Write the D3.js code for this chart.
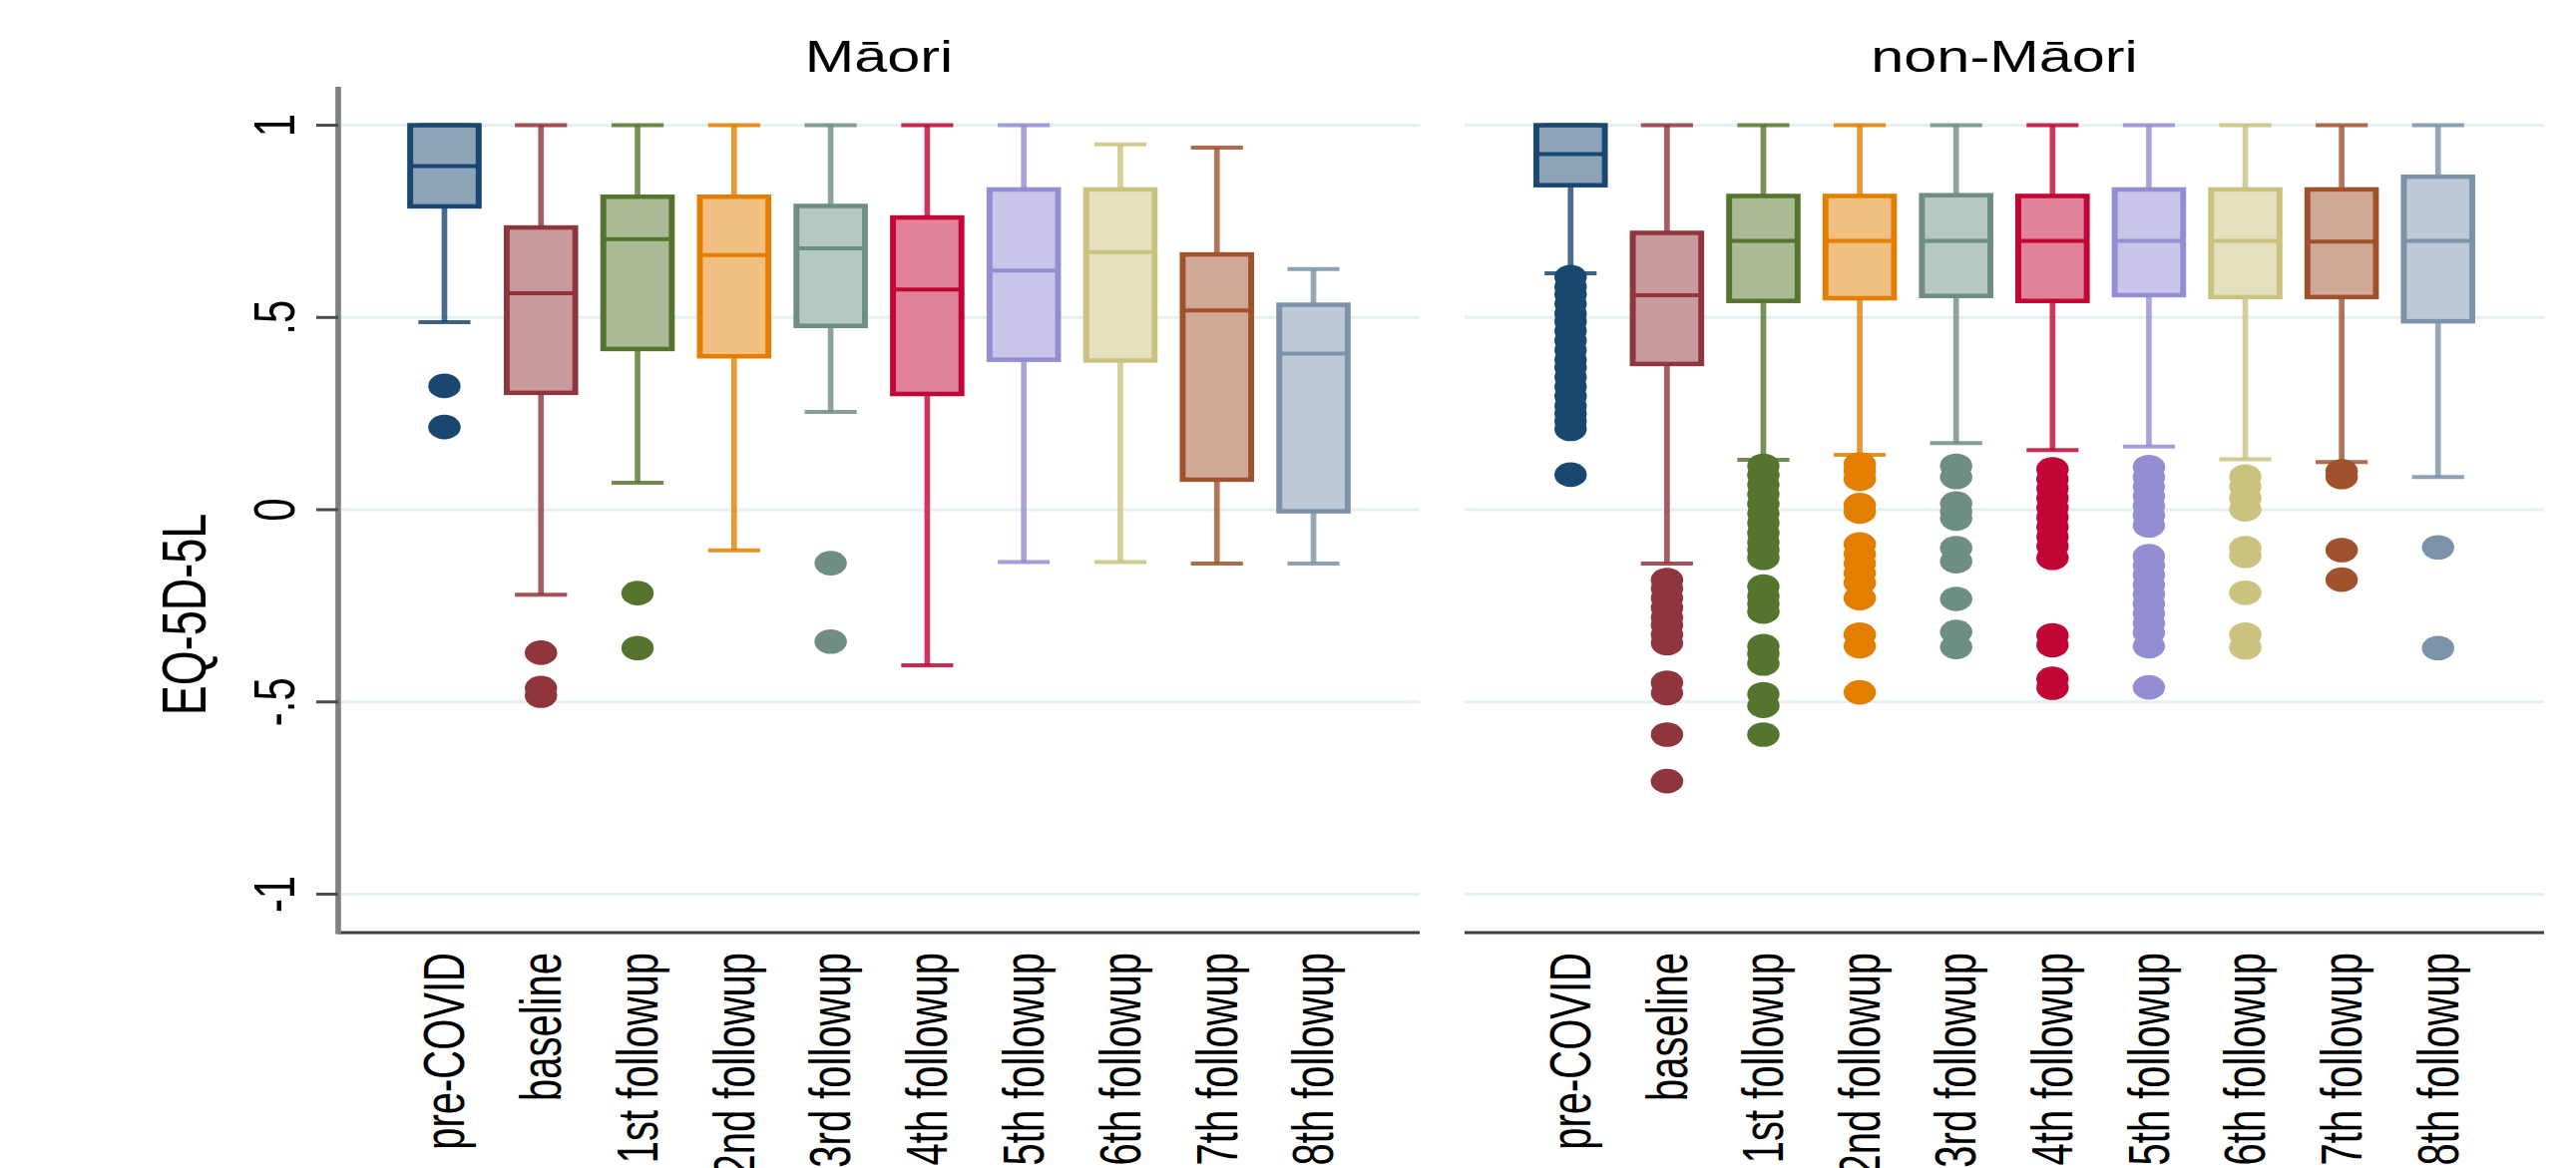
<!DOCTYPE html>
<html>
<head>
<meta charset="utf-8">
<script src="https://cdn.jsdelivr.net/npm/d3@7"></script>
<style>
body { margin: 0; background: #fff; overflow: hidden; }
text { font-family: "Liberation Sans", Arial, sans-serif; fill: #000; }
</style>
</head>
<body>
<svg id="chart"></svg>
<script>
// DATA ///////////////////////////////////////////////////////////////////////////

var categories = ["pre-COVID", "baseline", "1st followup", "2nd followup", "3rd followup",
    "4th followup", "5th followup", "6th followup", "7th followup", "8th followup"];

var groups = ["M\u0101ori", "non-M\u0101ori"];

var yTicks = [1, 0.5, 0, -0.5, -1];
var yTickLabels = ["1", ".5", "0", "-.5", "-1"];

// Māori
var maoriHigh   = [1, 1, 1, 1, 1, 1, 1, 0.95, 0.942, 0.626];
var maoriQ3     = [1, 0.734, 0.814, 0.814, 0.79, 0.76, 0.833, 0.833, 0.664, 0.533];
var maoriMedian = [0.894, 0.563, 0.704, 0.662, 0.68, 0.573, 0.622, 0.67, 0.518, 0.406];
var maoriQ1     = [0.789, 0.304, 0.418, 0.399, 0.478, 0.301, 0.39, 0.388, 0.078, -0.004];
var maoriLow    = [0.488, -0.221, 0.07, -0.106, 0.254, -0.405, -0.136, -0.136, -0.14, -0.14];
var maoriOutliers = [
    [0.322, 0.215],
    [-0.372, -0.464, -0.484],
    [-0.217, -0.36],
    [],
    [-0.139, -0.343],
    [], [], [], [], []
];

// non-Māori
var nonMaoriHigh   = [1, 1, 1, 1, 1, 1, 1, 1, 1, 1];
var nonMaoriQ3     = [1, 0.72, 0.816, 0.816, 0.818, 0.816, 0.833, 0.833, 0.833, 0.866];
var nonMaoriMedian = [0.925, 0.558, 0.699, 0.699, 0.699, 0.699, 0.699, 0.699, 0.697, 0.699];
var nonMaoriQ1     = [0.844, 0.379, 0.543, 0.55, 0.556, 0.543, 0.558, 0.553, 0.553, 0.49];
var nonMaoriLow    = [0.615, -0.14, 0.13, 0.143, 0.173, 0.155, 0.164, 0.131, 0.124, 0.085];
var nonMaoriOutliers = [
    [0.605, 0.58, 0.56, 0.535, 0.51, 0.49, 0.465, 0.44, 0.415, 0.39, 0.37, 0.345, 0.32, 0.295, 0.27, 0.25, 0.23, 0.21, 0.091],
    [-0.183, -0.205, -0.23, -0.255, -0.28, -0.3, -0.325, -0.347, -0.45, -0.477, -0.585, -0.706],
    [0.114, 0.09, 0.065, 0.04, 0.015, -0.01, -0.035, -0.06, -0.085, -0.105, -0.125, -0.2, -0.225, -0.245, -0.265, -0.355, -0.375, -0.4, -0.48, -0.51, -0.585],
    [0.118, 0.1, 0.08, 0.012, -0.005, -0.09, -0.115, -0.14, -0.165, -0.19, -0.23, -0.325, -0.355, -0.475],
    [0.114, 0.085, 0.016, -0.005, -0.023, -0.1, -0.134, -0.232, -0.318, -0.357],
    [0.105, 0.08, 0.055, 0.03, 0.005, -0.02, -0.045, -0.07, -0.095, -0.125, -0.327, -0.352, -0.44, -0.463],
    [0.111, 0.085, 0.06, 0.035, 0.01, -0.015, -0.041, -0.121, -0.145, -0.17, -0.195, -0.22, -0.245, -0.27, -0.295, -0.32, -0.355, -0.462],
    [0.086, 0.06, 0.03, 0.001, -0.1, -0.12, -0.216, -0.325, -0.358],
    [0.1, 0.085, -0.105, -0.182],
    [-0.098, -0.36]
];

var boxColours = ["#1a476f", "#90353b", "#55752f", "#e37e00", "#6e8e84",
    "#c10534", "#938dd2", "#cac27e", "#a0522d", "#7b92a8"];

// SETUP //////////////////////////////////////////////////////////////////////////

const WIDTH = 2582, HEIGHT = 1171;
const STRETCH = 1.32;              // the picture is wider than it is drawn
const VB_W = WIDTH / STRETCH;
const PLOT_TOP = 87, PLOT_BOTTOM = 935;
const PANEL_X = [[339, 1423], [1468, 2550]];   // screen px
const BOX_W = 52, CAP_W = 39.5, DOT_R = 12.3;

function sx(px) { return px / STRETCH; }

var svg = d3.select('#chart')
    .attr('width', WIDTH)
    .attr('height', HEIGHT)
    .attr('viewBox', '0 0 ' + VB_W + ' ' + HEIGHT)
    .attr('preserveAspectRatio', 'none');

var y = d3.scaleLinear().domain([-1.1, 1.1]).range([PLOT_BOTTOM, PLOT_TOP]);

var panels = [
    { high: maoriHigh, q3: maoriQ3, med: maoriMedian, q1: maoriQ1, low: maoriLow, out: maoriOutliers },
    { high: nonMaoriHigh, q3: nonMaoriQ3, med: nonMaoriMedian, q1: nonMaoriQ1, low: nonMaoriLow, out: nonMaoriOutliers }
];

function fillOf(c) { return d3.interpolateRgb(c, '#ffffff')(0.5); }

// DRAW ///////////////////////////////////////////////////////////////////////////

function drawPanel(p) {
    var x0 = sx(PANEL_X[p][0]), x1 = sx(PANEL_X[p][1]);
    var x = d3.scalePoint().domain(categories).range([x0, x1]).padding(1.1);
    var s = panels[p];
    var g = svg.append('g');

    // gridlines
    g.append('g').selectAll('line')
        .data(yTicks)
        .enter().append('line')
        .attr('x1', x0).attr('x2', x1)
        .attr('y1', d => y(d)).attr('y2', d => y(d))
        .attr('stroke', '#e6eff1')
        .attr('stroke-width', 3);

    // panel title
    g.append('text')
        .attr('x', (x0 + x1) / 2)
        .attr('y', 72)
        .attr('text-anchor', 'middle')
        .style('font-size', '45px')
        .text(groups[p]);

    var boxes = g.append('g').selectAll('g')
        .data(categories)
        .enter().append('g');

    // whiskers
    boxes.append('line')
        .attr('x1', d => x(d)).attr('x2', d => x(d))
        .attr('y1', (d, i) => y(s.high[i])).attr('y2', (d, i) => y(s.q3[i]))
        .attr('stroke', (d, i) => boxColours[i]).attr('stroke-opacity', 0.8)
        .attr('stroke-width', 4.3);
    boxes.append('line')
        .attr('x1', d => x(d)).attr('x2', d => x(d))
        .attr('y1', (d, i) => y(s.q1[i])).attr('y2', (d, i) => y(s.low[i]))
        .attr('stroke', (d, i) => boxColours[i]).attr('stroke-opacity', 0.8)
        .attr('stroke-width', 4.3);

    // caps
    ['high', 'low'].forEach(function (k) {
        boxes.append('line')
            .attr('x1', d => x(d) - CAP_W / 2).attr('x2', d => x(d) + CAP_W / 2)
            .attr('y1', (d, i) => y(s[k][i])).attr('y2', (d, i) => y(s[k][i]))
            .attr('stroke', (d, i) => boxColours[i]).attr('stroke-opacity', 0.85)
            .attr('stroke-width', 4);
    });

    // boxes
    boxes.append('rect')
        .attr('x', d => x(d) - BOX_W / 2)
        .attr('width', BOX_W)
        .attr('y', (d, i) => y(s.q3[i]))
        .attr('height', (d, i) => y(s.q1[i]) - y(s.q3[i]))
        .attr('fill', (d, i) => fillOf(boxColours[i]))
        .attr('stroke', (d, i) => boxColours[i])
        .attr('stroke-width', 4.5);

    // medians
    boxes.append('line')
        .attr('x1', d => x(d) - BOX_W / 2).attr('x2', d => x(d) + BOX_W / 2)
        .attr('y1', (d, i) => y(s.med[i])).attr('y2', (d, i) => y(s.med[i]))
        .attr('stroke', (d, i) => boxColours[i])
        .attr('stroke-width', 4);

    // outside values
    boxes.each(function (d, i) {
        d3.select(this).selectAll('circle')
            .data(s.out[i])
            .enter().append('circle')
            .attr('cx', x(d))
            .attr('cy', v => y(v))
            .attr('r', DOT_R)
            .attr('fill', boxColours[i]);
    });

    // x axis
    g.append('line')
        .attr('x1', x0).attr('x2', x1)
        .attr('y1', PLOT_BOTTOM).attr('y2', PLOT_BOTTOM)
        .attr('stroke', '#3c3c3c')
        .attr('stroke-width', 3);

    g.append('g').selectAll('text')
        .data(categories)
        .enter().append('text')
        .attr('transform', d => 'translate(' + x(d) + ',955) rotate(-90) scale(1,1.07)')
        .attr('text-anchor', 'end')
        .attr('dy', '0.35em')
        .style('font-size', '40px')
        .text(d => d);
}

function drawYAxis() {
    var ax = sx(PANEL_X[0][0]);
    var g = svg.append('g');

    g.append('line')
        .attr('x1', ax).attr('x2', ax)
        .attr('y1', PLOT_TOP).attr('y2', PLOT_BOTTOM + 1.5)
        .attr('stroke', '#808080')
        .attr('stroke-width', 4.3);

    g.selectAll('.tick')
        .data(yTicks)
        .enter().append('line')
        .attr('class', 'tick')
        .attr('x1', sx(317)).attr('x2', ax)
        .attr('y1', d => y(d)).attr('y2', d => y(d))
        .attr('stroke', '#4a4a4a')
        .attr('stroke-width', 3);

    g.selectAll('.ticklabel')
        .data(yTicks)
        .enter().append('text')
        .attr('class', 'ticklabel')
        .attr('transform', d => 'translate(' + sx(275) + ',' + y(d) + ') rotate(-90) scale(1,1.05)')
        .attr('text-anchor', 'middle')
        .attr('dy', '0.35em')
        .style('font-size', '42px')
        .text((d, i) => yTickLabels[i]);

    g.append('text')
        .attr('transform', 'translate(' + sx(184) + ',616) rotate(-90) scale(1,1.07)')
        .attr('text-anchor', 'middle')
        .attr('dy', '0.35em')
        .style('font-size', '45px')
        .text('EQ-5D-5L');
}

drawPanel(0);
drawPanel(1);
drawYAxis();
</script>
</body>
</html>
